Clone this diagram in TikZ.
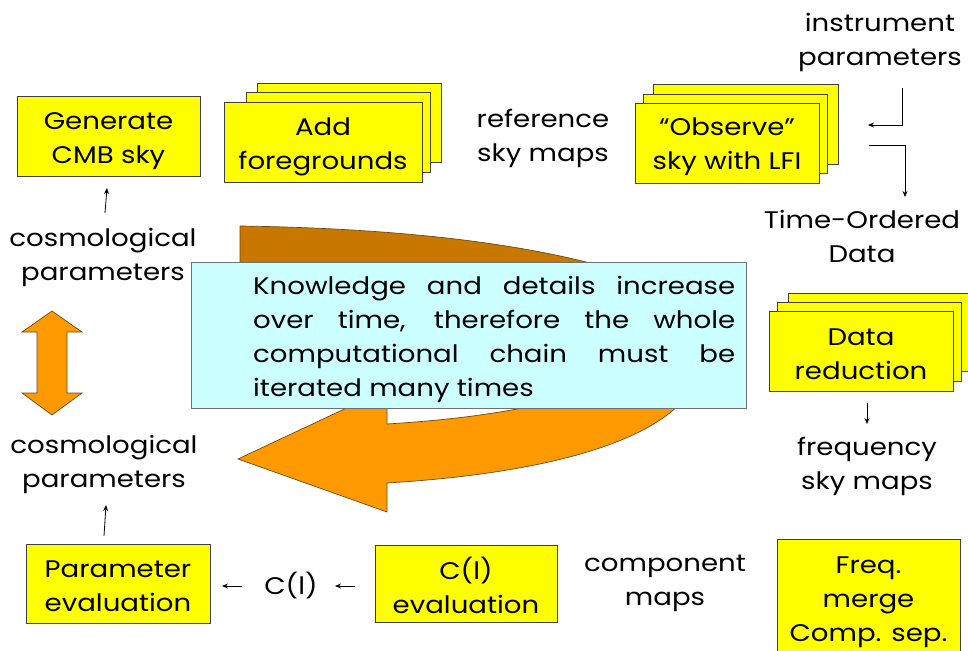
\documentclass[tikz,border=0pt]{standalone}
\usepackage{fontspec}
\setmainfont{Poppins}[FakeStretch=1.15]
\usetikzlibrary{arrows.meta}
\definecolor{boxyellow}{HTML}{FFFF00}
\definecolor{boxedge}{HTML}{404040}
\definecolor{notecyan}{HTML}{CCFFFF}
\definecolor{noteedge}{HTML}{707070}
\definecolor{arrorange}{HTML}{FF9900}
\definecolor{arrbrown}{HTML}{C87800}
\definecolor{arredge}{HTML}{6B4A1A}
\tikzset{
  txt/.style={font=\fontsize{24}{34}\selectfont, align=center, inner sep=0pt},
  ybox/.style={draw=boxedge, line width=0.8pt, fill=boxyellow},
  ynode/.style={ybox, inner sep=0pt, minimum width=#1, minimum height=80pt},
  smallarr/.style={line width=0.8pt, -{Stealth[length=6pt,width=5pt]}},
}
\begin{document}
\begin{tikzpicture}[x=1pt,y=-1pt]
\useasboundingbox (0,0) rectangle (968,650);
\clip (0,0) rectangle (968,650);

% big curved arrow (behind the note)
\filldraw[fill=arrbrown, draw=arredge, line width=0.7pt]
  (240,300) -- (240,226) .. controls (380,228) and (500,240) .. (590,263)
  -- (600,300) -- cycle;
\filldraw[fill=arrorange, draw=arredge, line width=0.7pt]
  (700,360) .. controls (700,420) and (600,470) .. (387,483)
  -- (387,512) -- (238,459) -- (387,389) -- (387,424)
  .. controls (450,420) and (500,414) .. (560,400) -- (600,360) -- cycle;

% note
\node[draw=noteedge, line width=0.8pt, fill=notecyan, minimum width=555pt, minimum height=146pt, inner sep=0pt] (note) at (468.5,335) {};
\node[font=\fontsize{24}{34}\selectfont, text width=482pt, align=justify, inner sep=0pt, anchor=north west] (notetext) at (253,276)
  {Knowledge and details increase over time, therefore the whole computational chain must be \mbox{iterated} many times};

% top row
\node[ynode=183pt] (gen) at (108.5,136.5) {};
\node[txt] (gent) at (108.5,141) {Generate\\CMB sky};
\draw[ybox] (257,83) rectangle (441,162);
\draw[ybox] (246,92) rectangle (430,172);
\node[ynode=198pt] (fg) at (323,142) {};
\node[txt] (fgt) at (323,146.5) {Add\\foregrounds};
\node[txt] (ref) at (543,138) {reference\\sky maps};
\draw[ybox] (653,84) rectangle (838,164);
\draw[ybox] (643,94) rectangle (827,173);
\node[ynode=184pt] (obs) at (727,143) {};
\node[txt] (obst) at (727,147) {``Observe''\\sky with LFI};
\node[txt] (inst) at (880,42.5) {instrument\\parameters};
\node[txt] (tod) at (862,236) {Time-Ordered\\Data};

% right column
\draw[ybox] (788,293) rectangle (990,371);
\draw[ybox] (777,302) rectangle (961,381);
\node[ynode=184pt] (dr) at (861,351.5) {};
\node[txt] (drt) at (861,354.5) {Data\\reduction};
\node[txt] (freqmaps) at (867,466) {frequency\\sky maps};
\node[ybox, minimum width=183pt, minimum height=125pt, anchor=north] (merge) at (868.5,539) {};
\node[txt] (mergetext) at (868.5,602) {Freq.\\merge\\Comp. sep.};

% bottom row
\node[txt] (comp) at (665,583) {component\\maps};
\node[ynode=182pt, minimum height=77pt] (cle) at (466,583.5) {};
\node[txt] (clet) at (466,585) {C(l)\\evaluation};
\node[txt] (cl) at (291,586) {C(l)};
\node[ynode=184pt, minimum height=79pt] (pe) at (118,583.5) {};
\node[txt] (pet) at (118,586.5) {Parameter\\evaluation};

% left column
\node[txt] (cp1) at (103,257) {cosmological\\parameters};
\node[txt] (cp2) at (104,464) {cosmological\\parameters};
\filldraw[fill=arrorange, draw=arredge, line width=0.7pt]
  (52,311) -- (82,332) -- (67,332) -- (67,393) -- (82,393) -- (52,415)
  -- (22,393) -- (37,393) -- (37,332) -- (22,332) -- cycle;

% connector end points
\coordinate (genA) at (105,213);
\coordinate (genB) at (107,188);
\coordinate (peA) at (104,536);
\coordinate (peB) at (106,505);
\coordinate (clA) at (242,586);
\coordinate (clB) at (222,586);
\coordinate (cleA) at (355,586);
\coordinate (cleB) at (335,586);
\coordinate (instA) at (902,88);
\coordinate (instB) at (868,125);
\coordinate (todA) at (869,145);
\coordinate (todB) at (905,197);
\coordinate (drA) at (867,403);
\coordinate (drB) at (867,424);

% small arrows
\draw[smallarr] (genA) -- (genB);
\draw[smallarr] (peA) -- (peB);
\draw[smallarr] (clA) -- (clB);
\draw[smallarr] (cleA) -- (cleB);
\draw[smallarr] (instA) |- (instB);
\draw[smallarr] (todA) -| (todB);
\draw[smallarr] (drA) -- (drB);
\end{tikzpicture}
\end{document}
